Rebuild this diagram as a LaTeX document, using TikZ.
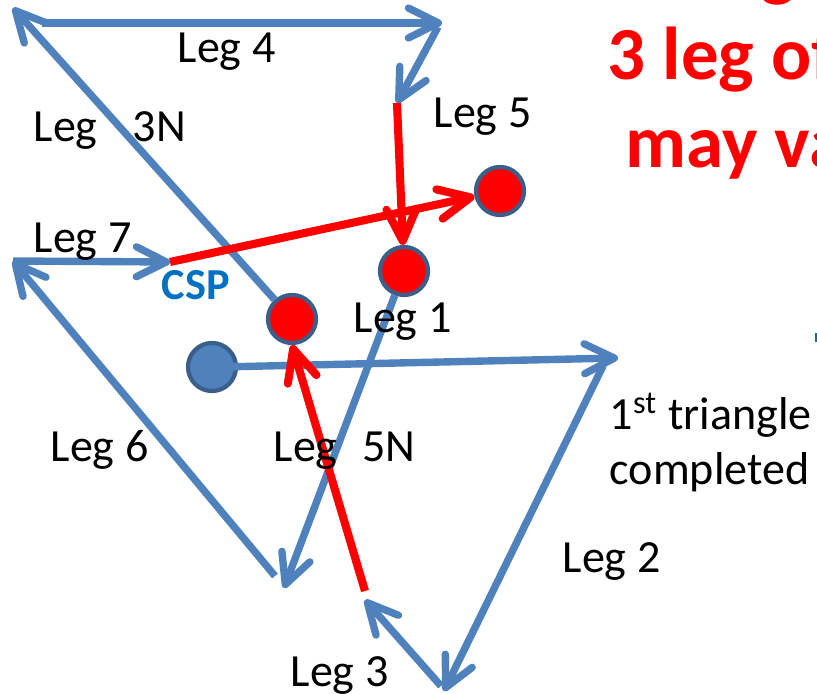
\documentclass[tikz,border=0pt]{standalone}
\usepackage{fontspec}
\setmainfont{Carlito}
\usetikzlibrary{arrows.meta}
\definecolor{legblue}{HTML}{4F81BD}
\definecolor{ringblue}{HTML}{3A5F8B}
\definecolor{cspblue}{HTML}{0070C0}
\tikzset{
  leg/.style={draw=legblue, line width=2.1pt, -{Straight Barb[length=8.5pt,width=8.5pt,round]}},
  track/.style={draw=red, line width=2.3pt, -{Straight Barb[length=9pt,width=8.5pt,round]}},
  wpt/.style={circle, fill=#1, draw=ringblue, line width=1.2pt, minimum size=0.48cm, inner sep=0pt},
  lbl/.style={anchor=base west, inner sep=0pt, font=\fontsize{13.1}{15.9}\selectfont},
  note/.style={anchor=base west, inner sep=0pt, text=red, font=\fontsize{21.3}{24.7}\selectfont\bfseries},
}
\begin{document}
\begin{tikzpicture}[x=0.01cm, y=-0.01cm]
\useasboundingbox (0,0) rectangle (817,694);
\clip (0,0) rectangle (817,694);

\coordinate (l1e) at (618,358);
\coordinate (l2s) at (603,366);
\coordinate (l2e) at (444,691);
\coordinate (l3s) at (441,686);
\coordinate (l3e) at (365,600);
\coordinate (l3r) at (365,591);
\coordinate (l3ne) at (13,8);
\coordinate (l4s) at (42,23);
\coordinate (l4e) at (442,23);
\coordinate (l5s) at (438,27);
\coordinate (l5e) at (397,103);
\coordinate (l5ne) at (284,588);
\coordinate (l6s) at (275,576);
\coordinate (l6e) at (13,261);
\coordinate (l7e) at (170,262);

\node[wpt=legblue] (start) at (212,367) {};
\node[wpt=red] (wpa) at (404,271) {};
\node[wpt=red] (wpb) at (292,319) {};
\node[wpt=red] (wpc) at (500,191) {};

\draw[leg] ([xshift=0.09cm]start.center) -- (l1e);
\draw[leg] (l2s) -- (l2e);
\draw[leg] (l3s) -- (l3e);
\draw[leg] (wpb) -- (l3ne);
\draw[leg] (l4s) -- (l4e);
\draw[leg] (l5s) -- (l5e);
\draw[leg] (wpa) -- (l5ne);
\draw[leg] (l6s) -- (l6e);
\draw[leg] (l6e) -- (l7e);

\draw[track] (l5e) -- (wpa);
\draw[track] (l7e) -- (wpc);
\draw[track] (l3r) -- (wpb.south);

\node[lbl] (leg4) at (177,62) {Leg 4};
\node[lbl] (leg3n) at (33,142) {Leg\hspace{10pt}3N};
\node[lbl] (leg5) at (433,127) {Leg 5};
\node[lbl] (leg7) at (33,253) {Leg 7};
\node[lbl, text=cspblue, font=\fontsize{12.6}{15}\selectfont\bfseries] (csp) at (161,300) {CSP};
\node[lbl] (leg1) at (353,333) {Leg 1};
\node[lbl] (leg6) at (50,462) {Leg 6};
\node[lbl] (leg5n) at (273,462) {Leg\hspace{7pt}5N};
\node[lbl] (leg3) at (290,687) {Leg 3};
\node[lbl] (leg2) at (562,573) {Leg 2};
\node[lbl, align=left] (done) at (609,485) {1\textsuperscript{st} triangle\\completed};

\node[note] (noteg) at (760,-8) {g};
\node[note] (notea) at (607,80) {3 leg of};
\node[note] (noteb) at (625,167) {may va};
\fill[cspblue] (815,333) rectangle (817,342);
\end{tikzpicture}
\end{document}
